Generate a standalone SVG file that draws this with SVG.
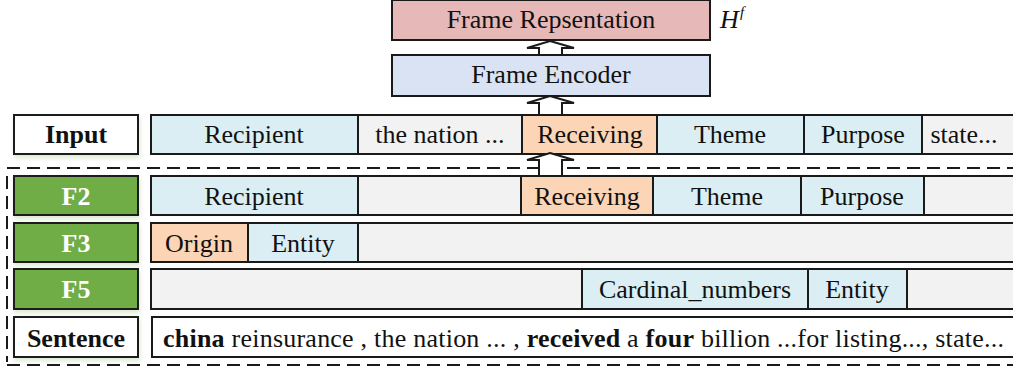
<svg xmlns="http://www.w3.org/2000/svg" width="1013" height="369" viewBox="0 0 1013 369">
  <style>
    .box { stroke: #1a1a1a; stroke-width: 2; }
    .pink { fill: #E6B8B7; }
    .enc { fill: #DAE3F3; }
    .blue { fill: #DAEEF3; }
    .orange { fill: #FBD5B5; }
    .gray { fill: #F2F2F2; }
    .white { fill: #FFFFFF; }
    .green { fill: #70AD47; }
    text { font-family: 'Liberation Serif', 'DejaVu Serif', serif; font-size: 26px; fill: #111; text-anchor: middle; }
    .lbl { font-weight: bold; }
    .glbl { font-weight: bold; fill: #FFFFFF; }
    .b { font-weight: bold; }
    .dash { stroke: #1a1a1a; stroke-width: 2; stroke-dasharray: 13 7; fill: none; }
    .arrow { fill: #FFFFFF; stroke: #1a1a1a; stroke-width: 2; stroke-linejoin: miter; }
  </style>
  <defs>
    <filter id="glow" x="-10%" y="-20%" width="120%" height="150%">
      <feDropShadow dx="1" dy="3" stdDeviation="2" flood-color="#9CC47F" flood-opacity="0.35"/>
    </filter>
  </defs>

  <!-- top encoder stack -->
  <g id="frame-representation">
    <rect class="box pink" x="392" y="0" width="318" height="40"/>
    <text x="551" y="28">Frame Repsentation</text>
  </g>
  <g id="h-f-label">
    <text x="720" y="28" style="font-style:italic;text-anchor:start">H</text>
    <text x="740" y="17" style="font-style:italic;text-anchor:start;font-size:15px">f</text>
  </g>
  <g id="frame-encoder">
    <rect class="box enc" x="392" y="55" width="318" height="41"/>
    <text x="551" y="83">Frame Encoder</text>
  </g>

  <!-- separators -->
  <g id="separators">
    <line class="dash" x1="7" y1="168" x2="1013" y2="168"/>
    <line class="dash" x1="7" y1="365" x2="1013" y2="365"/>
    <line class="dash" x1="7" y1="176" x2="7" y2="362"/>
  </g>

  <!-- Input row -->
  <g id="input-row">
    <rect class="box white" x="14" y="115" width="124" height="39" filter="url(#glow)"/>
    <text class="lbl" x="76" y="143">Input</text>
    <rect class="box blue" x="151" y="115" width="207" height="39"/>
    <text x="254" y="143">Recipient</text>
    <rect class="box gray" x="358" y="115" width="164" height="39"/>
    <text x="440" y="143">the nation ...</text>
    <rect class="box orange" x="522" y="115" width="135" height="39"/>
    <text x="590" y="143">Receiving</text>
    <rect class="box blue" x="657" y="115" width="147" height="39"/>
    <text x="730" y="143">Theme</text>
    <rect class="box blue" x="804" y="115" width="118" height="39"/>
    <text x="863" y="143">Purpose</text>
    <rect class="box gray" x="922" y="115" width="100" height="39"/>
    <text x="964" y="143">state...</text>
  </g>

  <!-- F2 row -->
  <g id="f2-row">
    <rect class="box green" x="14" y="176" width="124" height="39" filter="url(#glow)"/>
    <text class="glbl" x="76" y="205">F2</text>
    <rect class="box blue" x="151" y="176" width="207" height="39"/>
    <text x="254" y="205">Recipient</text>
    <rect class="box gray" x="358" y="176" width="163" height="39"/>
    <rect class="box orange" x="521" y="176" width="132" height="39"/>
    <text x="587" y="205">Receiving</text>
    <rect class="box blue" x="653" y="176" width="148" height="39"/>
    <text x="727" y="205">Theme</text>
    <rect class="box blue" x="801" y="176" width="123" height="39"/>
    <text x="862" y="205">Purpose</text>
    <rect class="box gray" x="924" y="176" width="100" height="39"/>
  </g>

  <!-- F3 row -->
  <g id="f3-row">
    <rect class="box green" x="14" y="223" width="124" height="39" filter="url(#glow)"/>
    <text class="glbl" x="76" y="252">F3</text>
    <rect class="box orange" x="151" y="223" width="97" height="39"/>
    <text x="199" y="252">Origin</text>
    <rect class="box blue" x="248" y="223" width="110" height="39"/>
    <text x="303" y="252">Entity</text>
    <rect class="box gray" x="358" y="223" width="666" height="39"/>
  </g>

  <!-- F5 row -->
  <g id="f5-row">
    <rect class="box green" x="14" y="269" width="124" height="40" filter="url(#glow)"/>
    <text class="glbl" x="76" y="298">F5</text>
    <rect class="box gray" x="151" y="269" width="431" height="40"/>
    <rect class="box blue" x="582" y="269" width="226" height="40"/>
    <text x="695" y="298">Cardinal_numbers</text>
    <rect class="box blue" x="808" y="269" width="99" height="40"/>
    <text x="857" y="298">Entity</text>
    <rect class="box gray" x="907" y="269" width="117" height="40"/>
  </g>

  <!-- Sentence row -->
  <g id="sentence-row">
    <rect class="box white" x="14" y="317" width="124" height="40" filter="url(#glow)"/>
    <text class="lbl" x="76" y="347">Sentence</text>
    <rect class="box white" x="152" y="317" width="872" height="40"/>
    <text x="163" y="347" style="text-anchor:start" textLength="841" lengthAdjust="spacing"><tspan class="b">china</tspan> reinsurance , the nation ... , <tspan class="b">received</tspan> a <tspan class="b">four</tspan> billion ...for listing..., state...</text>
  </g>

  <!-- hollow block arrows -->
  <g id="connectors">
    <polygon class="arrow" points="550,41 574,48 562,48 562,55 539,55 539,48 527,48"/>
    <polygon class="arrow" points="550,96 574,103 562,103 562,115 539,115 539,103 527,103"/>
    <polygon class="arrow" points="550,153 574,160 562,160 562,176 539,176 539,160 527,160"/>
  </g>
</svg>
